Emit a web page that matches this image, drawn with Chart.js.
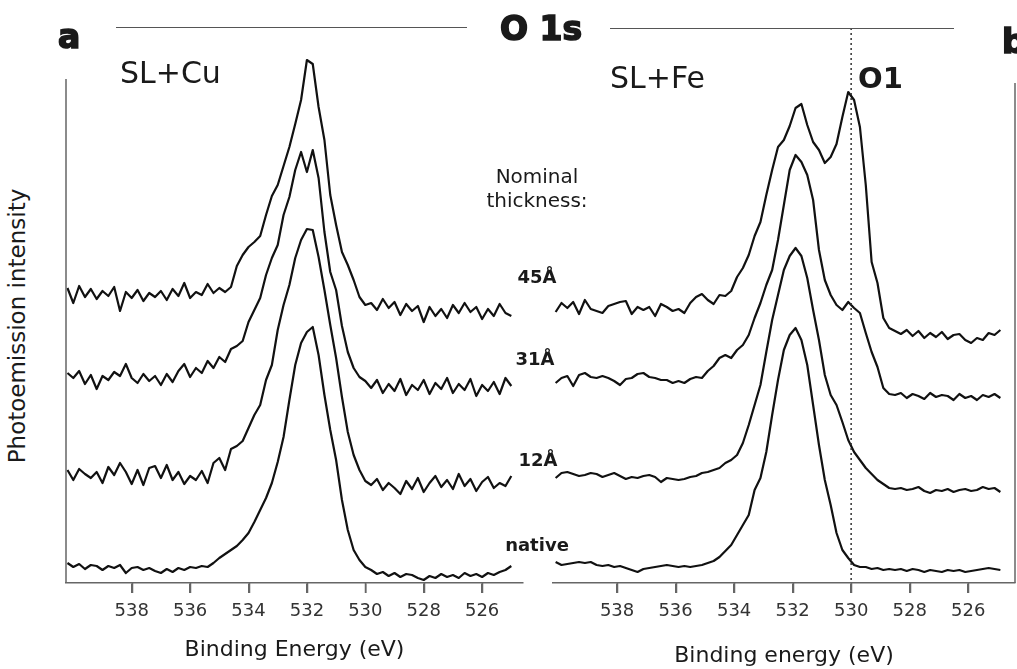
<!DOCTYPE html>
<html>
<head>
<meta charset="utf-8">
<script src="https://cdn.jsdelivr.net/npm/chart.js@4.4.1/dist/chart.umd.min.js"></script>
<style>
  html, body { margin: 0; padding: 0; background: #fff; overflow: hidden; }
  #page { position: relative; width: 1017px; height: 669px; overflow: hidden; font-family: 'DejaVu Sans', sans-serif; color: #1a1a1a; }
  #page canvas { position: absolute; top: 0; }
  .lbl { position: absolute; white-space: nowrap; line-height: 0; }
  .heavy { -webkit-text-stroke: 1.6px #1a1a1a; }
  .rule { position: absolute; height: 0; border-top: 1px solid #555; }
</style>
</head>
<body>
<div id="page">
  <canvas id="chartCu" width="461" height="669" style="left:64px"></canvas>
  <canvas id="chartFe" width="466" height="669" style="left:551px"></canvas>
  <div class="rule" style="left:116px; top:27px; width:351px"></div>
  <div class="rule" style="left:610px; top:28px; width:344px"></div>
</div>
<script>
// binding energies (eV) of the two scans
const energyCu = [540.2,540.0,539.8,539.6,539.4,539.2,539.0,538.8,538.6,538.4,
  538.2,538.0,537.8,537.6,537.4,537.2,537.0,536.8,536.6,536.4,
  536.2,536.0,535.8,535.6,535.4,535.2,535.0,534.8,534.6,534.4,
  534.2,534.0,533.8,533.6,533.4,533.2,533.0,532.8,532.6,532.4,
  532.2,532.0,531.8,531.6,531.4,531.2,531.0,530.8,530.6,530.4,
  530.2,530.0,529.8,529.6,529.4,529.2,529.0,528.8,528.6,528.4,
  528.2,528.0,527.8,527.6,527.4,527.2,527.0,526.8,526.6,526.4,
  526.2,526.0,525.8,525.6,525.4,525.2,525.0];
const energyFe = [540.1,539.9,539.7,539.5,539.3,539.1,538.9,538.7,538.5,538.3,
  538.1,537.9,537.7,537.5,537.3,537.1,536.9,536.7,536.5,536.3,
  536.1,535.9,535.7,535.5,535.3,535.1,534.9,534.7,534.5,534.3,
  534.1,533.9,533.7,533.5,533.3,533.1,532.9,532.7,532.5,532.3,
  532.1,531.9,531.7,531.5,531.3,531.1,530.9,530.7,530.5,530.3,
  530.1,529.9,529.7,529.5,529.3,529.1,528.9,528.7,528.5,528.3,
  528.1,527.9,527.7,527.5,527.3,527.1,526.9,526.7,526.5,526.3,
  526.1,525.9,525.7,525.5,525.3,525.1,524.9];

const thicknessLabels = ['45Å', '31Å', '12Å', 'native'];

// SL+Cu, offset spectra (arb. units)
const cu45 = [295,280,297,286,294,284,292,287,296,272,
  291,285,293,282,290,286,292,283,294,287,
  300,285,291,288,299,290,295,291,296,317,
  328,336,341,347,368,387,398,417,436,459,
  483,523,519,476,443,388,358,331,318,303,
  286,278,280,273,284,275,281,268,279,272,
  277,261,276,267,274,265,278,270,280,271,
  276,264,274,267,279,270,267];
const cu31 = [210,205,212,199,208,194,207,203,211,207,
  219,205,200,209,202,207,198,209,201,212,
  219,206,215,210,222,215,226,221,234,237,
  242,261,273,285,308,325,338,368,386,413,
  431,411,433,405,351,311,293,257,231,215,
  206,202,195,203,190,199,192,204,188,198,
  193,203,189,200,194,205,190,199,193,204,
  187,198,192,201,189,205,197];
const cu12 = [113,103,114,109,105,111,100,116,108,120,
  111,99,113,98,115,117,105,118,103,111,
  99,107,103,112,100,120,125,113,134,137,
  142,155,168,178,203,218,253,278,298,325,
  343,354,353,326,293,258,225,186,151,128,
  113,102,98,104,93,100,95,89,102,94,
  105,91,100,107,96,103,94,109,97,104,
  92,101,106,95,100,97,107];
const cuNative = [20,16,19,14,18,17,13,17,15,18,
  10,15,16,13,15,12,10,14,11,15,
  13,16,15,17,16,20,25,29,33,37,
  43,50,61,73,85,100,121,146,183,218,
  240,251,256,228,188,153,123,83,53,33,
  23,16,13,9,11,7,10,6,9,8,
  5,3,7,5,9,6,8,5,10,7,
  9,6,10,8,11,13,17];

// SL+Fe
const fe45 = [271,280,275,281,269,283,274,272,270,277,
  279,281,282,269,276,273,276,267,279,276,
  272,274,270,280,286,289,283,279,288,287,
  292,306,315,328,347,361,388,413,436,443,
  457,475,479,458,441,433,420,426,439,466,
  491,483,456,398,321,300,265,255,252,249,
  253,247,252,245,250,246,251,244,248,249,
  243,240,245,243,250,248,253];
const fe31 = [200,205,207,197,208,210,206,205,207,205,
  202,198,204,205,209,210,206,205,203,203,
  200,202,200,204,206,205,212,217,225,228,
  225,233,238,248,265,280,298,313,343,378,
  413,428,421,408,383,333,303,288,278,273,
  281,275,270,250,231,216,195,189,188,190,
  185,189,187,184,190,186,188,187,183,189,
  185,187,183,188,186,189,185];
const fe12 = [105,110,111,109,107,108,110,109,106,108,
  110,107,104,106,105,107,108,106,101,105,
  104,103,104,106,107,110,111,113,115,120,
  123,128,140,158,178,198,231,263,288,313,
  327,335,327,305,273,243,208,188,178,161,
  143,131,123,115,109,103,99,95,94,95,
  93,94,96,92,90,93,92,94,91,93,
  94,92,93,96,94,95,91];
const feNative = [21,18,19,20,21,20,21,18,17,18,
  16,17,15,13,11,14,15,16,17,18,
  17,16,17,16,17,18,20,22,26,32,
  38,48,58,68,93,105,131,168,203,233,
  248,255,243,218,178,138,103,78,50,33,
  25,18,16,16,14,15,13,14,13,14,
  12,14,13,11,13,12,11,13,12,13,
  11,12,13,14,15,14,13];

const tickValues = [538, 536, 534, 532, 530, 528, 526];
const o1Energy = 530;

const axisGrey = '#666';

// side frame line plus the tick marks under the energy axis
function frameLine(side, topY) {
    return {
        id: 'frameLine',
        afterDraw(chart) {
            const { ctx, chartArea } = chart;
            const xScale = chart.scales.x;
            const x = side === 'left' ? chartArea.left : chartArea.right;
            ctx.save();
            ctx.strokeStyle = axisGrey;
            ctx.lineWidth = 1.5;
            ctx.beginPath();
            ctx.moveTo(x, topY);
            ctx.lineTo(x, chartArea.bottom);
            tickValues.forEach(v => {
                const tx = Math.round(xScale.getPixelForValue(v)) + 0.5;
                ctx.moveTo(tx, chartArea.bottom);
                ctx.lineTo(tx, chartArea.bottom + 10);
            });
            ctx.stroke();
            ctx.restore();
        }
    };
}

// dotted marker for the O1 component
const o1Marker = {
    id: 'o1Marker',
    afterDatasetsDraw(chart) {
        const { ctx, chartArea } = chart;
        const x = chart.scales.x.getPixelForValue(o1Energy);
        ctx.save();
        ctx.strokeStyle = '#333';
        ctx.lineWidth = 1.5;
        ctx.setLineDash([2, 3]);
        ctx.beginPath();
        ctx.moveTo(x, 28);
        ctx.lineTo(x, chartArea.bottom);
        ctx.stroke();
        ctx.restore();
    }
};

function makePanel(id, energies, series, xMin, xMax, titleText, titlePad, plugins) {
    const ctx = document.getElementById(id).getContext('2d');
    return new Chart(ctx, {
        type: 'line',
        data: {
            datasets: series.map((values, k) => ({
                label: thicknessLabels[k],
                data: energies.map((e, i) => ({ x: e, y: values[i] })),
                borderColor: '#111',
                borderWidth: 2.2,
                borderJoinStyle: 'round',
                pointRadius: 0,
                tension: 0,
                fill: false
            }))
        },
        plugins: plugins,
        options: {
            responsive: false,
            animation: false,
            layout: { padding: { top: 20, left: 2, right: 2, bottom: 0 } },
            plugins: {
                legend: { display: false },
                tooltip: { enabled: false }
            },
            scales: {
                x: {
                    type: 'linear',
                    reverse: true,
                    min: xMin,
                    max: xMax,
                    afterBuildTicks: (scale) => {
                        scale.ticks = tickValues.map(v => ({ value: v }));
                    },
                    afterFit: (scale) => {
                        scale.height = 86;
                    },
                    grid: {
                        drawOnChartArea: false,
                        drawTicks: true,
                        tickLength: 10,
                        color: axisGrey,
                        lineWidth: 1.5
                    },
                    border: { display: true, color: axisGrey, width: 1.5 },
                    ticks: {
                        autoSkip: false,
                        maxRotation: 0,
                        padding: 8,
                        color: '#333',
                        font: { family: 'DejaVu Sans', size: 18 }
                    },
                    title: {
                        display: true,
                        text: titleText,
                        color: '#1a1a1a',
                        font: { family: 'DejaVu Sans', size: 22 },
                        padding: { top: 0, bottom: titlePad }
                    }
                },
                y: { display: false, min: 0, max: 563 }
            }
        }
    });
}

function addLabel(text, x, baseline, size, weight, align, cls) {
    const el = document.createElement('div');
    el.className = 'lbl' + (cls ? ' ' + cls : '');
    el.textContent = text;
    el.style.fontSize = size + 'px';
    el.style.fontWeight = weight;
    el.style.left = x + 'px';
    el.style.top = (baseline - 0.346 * size) + 'px';
    if (align === 'center') el.style.transform = 'translateX(-50%)';
    document.getElementById('page').appendChild(el);
}

window.onload = function () {
    makePanel('chartCu', energyCu, [cu45, cu31, cu12, cuNative], 524.6, 540.25,
        'Binding Energy (eV)', 6, [frameLine('left', 79)]);
    makePanel('chartFe', energyFe, [fe45, fe31, fe12, feNative], 524.4, 540.19,
        'Binding energy (eV)', 0, [frameLine('right', 83), o1Marker]);

    addLabel('a', 58, 48, 33, 'bold', 'left', 'heavy');
    addLabel('O 1s', 500, 40, 33, 'bold', 'left', 'heavy');
    addLabel('b', 1002, 53, 33, 'bold', 'left', 'heavy');
    addLabel('SL+Cu', 120, 83, 30, 'normal');
    addLabel('SL+Fe', 610, 88, 30, 'normal');
    addLabel('O1', 858, 88, 29, 'bold');
    addLabel('Nominal', 537, 183, 20, 'normal', 'center');
    addLabel('thickness:', 537, 207, 20, 'normal', 'center');
    addLabel(thicknessLabels[0], 537, 283, 18, 'bold', 'center');
    addLabel(thicknessLabels[1], 535, 365, 18, 'bold', 'center');
    addLabel(thicknessLabels[2], 538, 466, 18, 'bold', 'center');
    addLabel(thicknessLabels[3], 537, 551, 18, 'bold', 'center');

    const yTitle = document.createElement('div');
    yTitle.textContent = 'Photoemission intensity';
    yTitle.style.cssText = 'position:absolute; left:17px; top:326px; white-space:nowrap; line-height:1; font-size:23px; transform:translate(-50%,-50%) rotate(-90deg);';
    document.getElementById('page').appendChild(yTitle);
};
</script>
</body>
</html>
